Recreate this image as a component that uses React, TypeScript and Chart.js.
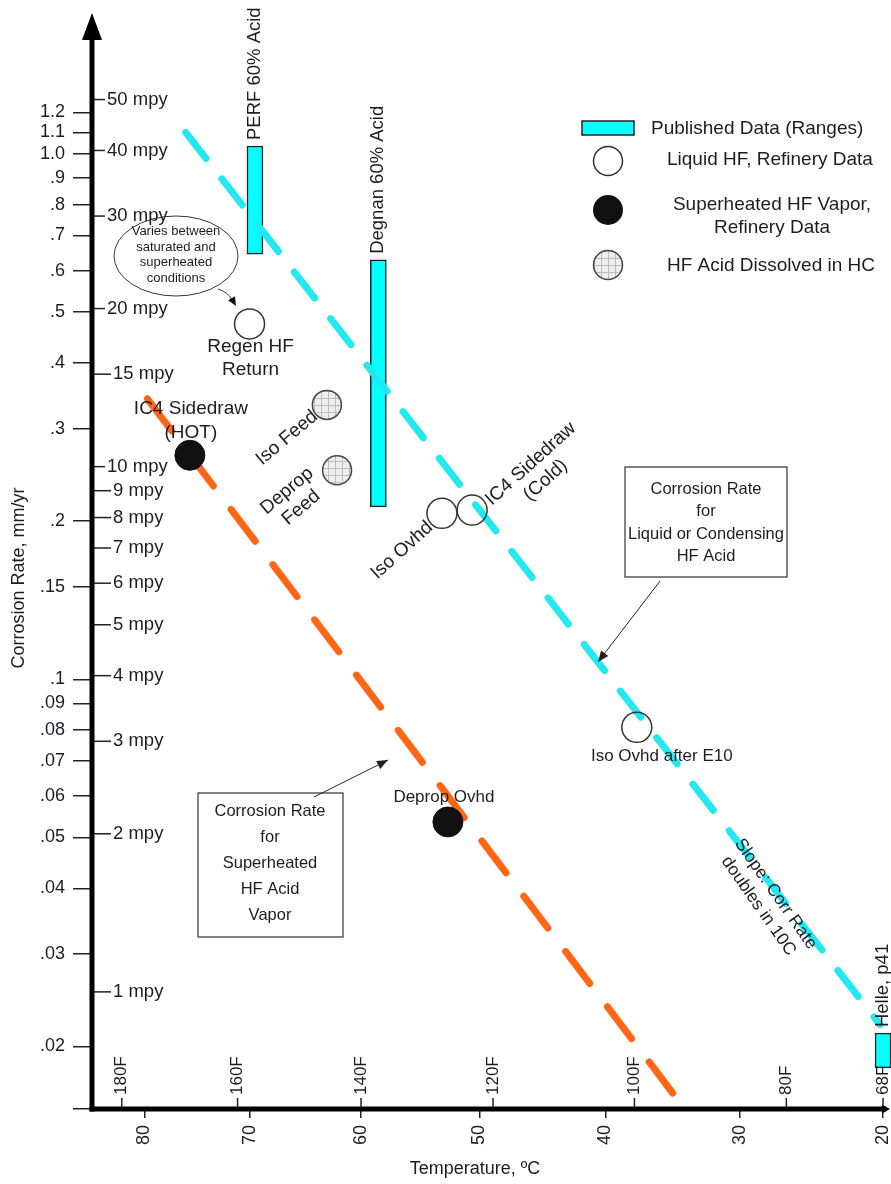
import React, { useEffect, useRef } from 'react';
import { Chart, registerables } from 'chart.js';

Chart.register(...registerables);

// ---------- conversions (x axis is an Arrhenius 1000/T(K) scale) ----------
const K0 = 273.15;
const inv = (c: number) => 1000 / (c + K0);
const invBack = (x: number) => 1000 / x - K0;
const fToC = (f: number) => ((f - 32) * 5) / 9;
const MPY_TO_MMYR = 0.0254;

// ---------- axes ----------
const X_MIN_C = 85.2;
const X_MAX_C = 19.8;
const Y_MIN = 0.0152;
const Y_MAX = 1.8;
const C_TICKS = [80, 70, 60, 50, 40, 30, 20];
const F_TICKS = [180, 160, 140, 120, 100, 80, 68];
const MMYR_TICKS = [0.02, 0.03, 0.04, 0.05, 0.06, 0.07, 0.08, 0.09, 0.1, 0.15, 0.2, 0.3, 0.4, 0.5, 0.6, 0.7, 0.8, 0.9, 1.0, 1.1, 1.2];
const MMYR_LABELS = ['.02', '.03', '.04', '.05', '.06', '.07', '.08', '.09', '.1', '.15', '.2', '.3', '.4', '.5', '.6', '.7', '.8', '.9', '1.0', '1.1', '1.2'];
const MPY_TICKS = [50, 40, 30, 20, 15, 10, 9, 8, 7, 6, 5, 4, 3, 2, 1];

// ---------- series ----------
const LIQUID_LINE_T = [76.0, 20.2];
const LIQUID_LINE_R = [1.1, 0.022];
const VAPOR_LINE_T = [79.7, 34.9];
const VAPOR_LINE_R = [0.342, 0.0163];

const RANGE_NAMES = ['PERF 60% Acid', 'Degnan 60% Acid', 'Helle, p41'];
const RANGE_T = [69.5, 58.5, 20.0];
const RANGE_LO = [0.645, 0.213, 0.0182];
const RANGE_HI = [1.036, 0.629, 0.0212];

const LIQ_NAMES = ['Regen HF Return', 'Iso Ovhd', 'IC4 Sidedraw (Cold)', 'Iso Ovhd after E10'];
const LIQ_T = [70.0, 53.1, 50.6, 37.6];
const LIQ_R = [0.475, 0.207, 0.21, 0.081];

const VAP_NAMES = ['IC4 Sidedraw (HOT)', 'Deprop Ovhd'];
const VAP_T = [75.6, 52.6];
const VAP_R = [0.267, 0.0535];

const DIS_NAMES = ['Iso Feed', 'Deprop Feed'];
const DIS_T = [63.0, 62.1];
const DIS_R = [0.333, 0.25];

// ---------- styles ----------
const FONT = 'Arial, "Liberation Sans", sans-serif';
const TXT = '#1c1c26';
const CYAN = '#00FFFF';
const CYAN_LINE = '#22E8F0';
const ORANGE = '#FF6616';
const FS = 19;

function makePattern(): CanvasPattern | string {
  const c = document.createElement('canvas');
  c.width = 7;
  c.height = 7;
  const g = c.getContext('2d');
  if (!g) return '#e6e6e6';
  g.fillStyle = '#eeeeee';
  g.fillRect(0, 0, 7, 7);
  g.strokeStyle = '#bdbdbd';
  g.lineWidth = 1;
  g.beginPath();
  g.moveTo(6.5, 0);
  g.lineTo(6.5, 7);
  g.moveTo(0, 6.5);
  g.lineTo(7, 6.5);
  g.stroke();
  const p = g.createPattern(c, 'repeat');
  return p || '#e6e6e6';
}

function text(ctx: CanvasRenderingContext2D, s: string, x: number, y: number, size: number, align: CanvasTextAlign = 'center', angle = 0) {
  ctx.save();
  ctx.translate(x, y);
  if (angle) ctx.rotate((angle * Math.PI) / 180);
  ctx.font = `${size}px ${FONT}`;
  ctx.fillStyle = TXT;
  ctx.textAlign = align;
  ctx.textBaseline = 'middle';
  ctx.fillText(s, 0, 0);
  ctx.restore();
}

function lines(ctx: CanvasRenderingContext2D, arr: string[], cx: number, cy: number, size: number, gap: number, angle = 0) {
  ctx.save();
  ctx.translate(cx, cy);
  ctx.rotate((angle * Math.PI) / 180);
  const start = -((arr.length - 1) * gap) / 2;
  arr.forEach((s, i) => text(ctx, s, 0, start + i * gap, size));
  ctx.restore();
}

function arrowHead(ctx: CanvasRenderingContext2D, x1: number, y1: number, x2: number, y2: number, len = 11, half = 4.5) {
  const a = Math.atan2(y2 - y1, x2 - x1);
  ctx.beginPath();
  ctx.moveTo(x2, y2);
  ctx.lineTo(x2 - len * Math.cos(a) + half * Math.sin(a), y2 - len * Math.sin(a) - half * Math.cos(a));
  ctx.lineTo(x2 - len * Math.cos(a) - half * Math.sin(a), y2 - len * Math.sin(a) + half * Math.cos(a));
  ctx.closePath();
  ctx.fill();
}

export default function App() {
  const ref = useRef<HTMLCanvasElement | null>(null);

  useEffect(() => {
    document.body.style.margin = '0';
    const canvas = ref.current;
    if (!canvas) return;
    const pattern = makePattern();

    const overlay = {
      id: 'overlay',
      afterDraw(chart: any) {
        const ctx: CanvasRenderingContext2D = chart.ctx;
        const xs = chart.scales.x;
        const ys = chart.scales.y;
        const ca = chart.chartArea;
        const px = (c: number) => xs.getPixelForValue(inv(c));
        const py = (r: number) => ys.getPixelForValue(r);
        ctx.save();

        // axes
        ctx.strokeStyle = '#000';
        ctx.fillStyle = '#000';
        ctx.lineWidth = 5;
        ctx.beginPath();
        ctx.moveTo(ca.left, ca.bottom + 2.5);
        ctx.lineTo(ca.left, 38);
        ctx.stroke();
        ctx.beginPath();
        ctx.moveTo(ca.left - 10, 40);
        ctx.lineTo(ca.left, 13);
        ctx.lineTo(ca.left + 10, 40);
        ctx.closePath();
        ctx.fill();
        ctx.beginPath();
        ctx.moveTo(ca.left - 2.5, ca.bottom);
        ctx.lineTo(ca.right, ca.bottom);
        ctx.stroke();
        ctx.beginPath();
        ctx.moveTo(ca.right - 4, ca.bottom - 4.5);
        ctx.lineTo(ca.right + 4, ca.bottom);
        ctx.lineTo(ca.right - 4, ca.bottom + 4.5);
        ctx.closePath();
        ctx.fill();

        // Fahrenheit ticks inside
        ctx.lineWidth = 1.5;
        ctx.strokeStyle = '#222';
        F_TICKS.forEach((f) => {
          const x = px(fToC(f));
          ctx.beginPath();
          ctx.moveTo(x, ca.bottom - 2);
          ctx.lineTo(x, ca.bottom - 11);
          ctx.stroke();
          text(ctx, `${f}F`, x, ca.bottom - 14, 17, 'left', -90);
        });

        // mpy ticks
        MPY_TICKS.forEach((m) => {
          const y = py(m * MPY_TO_MMYR);
          const lx = m >= 20 || m === 10 ? 107 : 113;
          ctx.beginPath();
          ctx.moveTo(ca.left + 2, y);
          ctx.lineTo(lx - 2, y);
          ctx.stroke();
          text(ctx, `${m} mpy`, lx, y, 18.5, 'left');
        });

        // axis titles
        text(ctx, 'Corrosion Rate, mm/yr', 19, 578, 18, 'center', -90);
        text(ctx, 'Temperature, ºC', 475, 1169, 18, 'center');

        // range labels
        RANGE_NAMES.forEach((n, i) => {
          text(ctx, n, px(RANGE_T[i]), py(RANGE_HI[i]) - 6, 18.5, 'left', -90);
        });

        // point labels
        const lp = (i: number) => ({ x: px(LIQ_T[i]), y: py(LIQ_R[i]) });
        const vp = (i: number) => ({ x: px(VAP_T[i]), y: py(VAP_R[i]) });
        const dp = (i: number) => ({ x: px(DIS_T[i]), y: py(DIS_R[i]) });
        let p = lp(0);
        lines(ctx, ['Regen HF', 'Return'], p.x + 1, p.y + 34, FS, 23);
        p = lp(1);
        text(ctx, 'Iso Ovhd', p.x - 40, p.y + 37, FS, 'center', -42);
        p = lp(2);
        lines(ctx, ['IC4 Sidedraw', '(Cold)'], p.x + 66, p.y - 38, FS, 22, -42);
        p = lp(3);
        text(ctx, 'Iso Ovhd after E10', p.x + 25, p.y + 29, 17);
        p = vp(0);
        lines(ctx, ['IC4 Sidedraw', '(HOT)'], p.x + 1, p.y - 35, FS, 24);
        p = vp(1);
        text(ctx, 'Deprop Ovhd', p.x - 4, p.y - 25, 17);
        p = dp(0);
        text(ctx, 'Iso Feed', p.x - 40, p.y + 33, FS, 'center', -40);
        p = dp(1);
        lines(ctx, ['Deprop', 'Feed'], p.x - 43, p.y + 29, FS, 22, -40);

        // slope note
        lines(ctx, ['Slope: Corr Rate', 'doubles in 10C'], 767, 900, 17.5, 21, 55);

        // boxes
        ctx.strokeStyle = '#333';
        ctx.lineWidth = 1.2;
        ctx.fillStyle = '#fff';
        ctx.fillRect(625, 467, 162, 110);
        ctx.strokeRect(625, 467, 162, 110);
        lines(ctx, ['Corrosion Rate', 'for', 'Liquid or Condensing', 'HF Acid'], 706, 523, 16.5, 22.5);
        ctx.fillStyle = '#fff';
        ctx.fillRect(198, 793, 145, 144);
        ctx.strokeRect(198, 793, 145, 144);
        lines(ctx, ['Corrosion Rate', 'for', 'Superheated', 'HF Acid', 'Vapor'], 270, 863, 16.5, 26);

        // arrows
        ctx.strokeStyle = '#222';
        ctx.fillStyle = '#222';
        ctx.lineWidth = 1;
        ctx.beginPath();
        ctx.moveTo(660, 581);
        ctx.lineTo(598, 662);
        ctx.stroke();
        arrowHead(ctx, 660, 581, 598, 662);
        ctx.beginPath();
        ctx.moveTo(314, 797);
        ctx.lineTo(388, 760);
        ctx.stroke();
        arrowHead(ctx, 314, 797, 388, 760);

        // ellipse note
        ctx.strokeStyle = '#333';
        ctx.lineWidth = 1;
        ctx.beginPath();
        ctx.ellipse(176, 256, 62, 40, 0, 0, Math.PI * 2);
        ctx.stroke();
        lines(ctx, ['Varies between', 'saturated and', 'superheated', 'conditions'], 176, 255, 13, 15.5);
        ctx.beginPath();
        ctx.moveTo(218, 289);
        ctx.quadraticCurveTo(228, 292, 232, 300);
        ctx.stroke();
        ctx.fillStyle = '#111';
        arrowHead(ctx, 228, 292, 236, 306, 9, 4);

        // legend
        ctx.fillStyle = CYAN;
        ctx.fillRect(582, 121, 52, 14);
        ctx.strokeStyle = '#222';
        ctx.lineWidth = 1.5;
        ctx.strokeRect(582, 121, 52, 14);
        text(ctx, 'Published Data (Ranges)', 651, 129, FS, 'left');
        ctx.beginPath();
        ctx.arc(608, 161, 14.5, 0, Math.PI * 2);
        ctx.fillStyle = '#fff';
        ctx.fill();
        ctx.strokeStyle = '#333';
        ctx.stroke();
        text(ctx, 'Liquid HF, Refinery Data', 667, 160, FS, 'left');
        ctx.beginPath();
        ctx.arc(608, 210, 15, 0, Math.PI * 2);
        ctx.fillStyle = '#111';
        ctx.fill();
        text(ctx, 'Superheated HF Vapor,', 772, 205, FS);
        text(ctx, 'Refinery Data', 772, 228, FS);
        ctx.beginPath();
        ctx.arc(608, 265, 14.5, 0, Math.PI * 2);
        ctx.fillStyle = pattern as any;
        ctx.fill();
        ctx.strokeStyle = '#444';
        ctx.stroke();
        text(ctx, 'HF Acid Dissolved in HC', 667, 266, FS, 'left');

        ctx.restore();
      },
    };

    const chart = new Chart(canvas, {
      type: 'line',
      data: {
        datasets: [
          {
            type: 'scatter',
            label: 'Liquid HF, Refinery Data',
            data: LIQ_T.map((t, i) => ({ x: inv(t), y: LIQ_R[i] })),
            pointRadius: 15,
            pointBackgroundColor: 'rgba(255,255,255,0)',
            pointBorderColor: '#333',
            pointBorderWidth: 1.5,
            showLine: false,
            order: 0,
          } as any,
          {
            type: 'scatter',
            label: 'Superheated HF Vapor, Refinery Data',
            data: VAP_T.map((t, i) => ({ x: inv(t), y: VAP_R[i] })),
            pointRadius: 15,
            pointBackgroundColor: '#111',
            pointBorderColor: '#111',
            pointBorderWidth: 1,
            showLine: false,
            order: 0,
          },
          {
            type: 'scatter',
            label: 'HF Acid Dissolved in HC',
            data: DIS_T.map((t, i) => ({ x: inv(t), y: DIS_R[i] })),
            pointRadius: 14.5,
            pointBackgroundColor: pattern as any,
            pointBorderColor: '#444',
            pointBorderWidth: 1.5,
            showLine: false,
            order: 0,
          },
          {
            type: 'line',
            label: 'Liquid or Condensing HF Acid',
            data: LIQUID_LINE_T.map((t, i) => ({ x: inv(t), y: LIQUID_LINE_R[i] })),
            borderColor: CYAN_LINE,
            borderWidth: 7,
            borderDash: [33, 26],
            borderCapStyle: 'round',
            pointRadius: 0,
            fill: false,
            order: 1,
          },
          {
            type: 'line',
            label: 'Superheated HF Acid Vapor',
            data: VAPOR_LINE_T.map((t, i) => ({ x: inv(t), y: VAPOR_LINE_R[i] })),
            borderColor: ORANGE,
            borderWidth: 7,
            borderDash: [40, 29.3],
            borderCapStyle: 'round',
            pointRadius: 0,
            fill: false,
            order: 1,
          },
          {
            type: 'bar',
            label: 'Published Data (Ranges)',
            data: RANGE_T.map((t, i) => ({ x: inv(t), y: [RANGE_LO[i], RANGE_HI[i]] })) as any,
            backgroundColor: CYAN,
            borderColor: '#222',
            borderWidth: 1.5,
            borderSkipped: false,
            barThickness: 16,
            grouped: false,
            clip: false,
            order: 2,
          } as any,
        ],
      },
      options: {
        responsive: false,
        animation: false,
        devicePixelRatio: 1,
        layout: { autoPadding: false, padding: { top: 20, right: 5, left: 0, bottom: 0 } },
        plugins: {
          legend: { display: false },
          tooltip: { enabled: false },
          title: { display: false },
        },
        scales: {
          x: {
            type: 'linear',
            min: inv(X_MIN_C),
            max: inv(X_MAX_C),
            offset: false,
            grid: { drawOnChartArea: false, drawTicks: true, tickLength: 9, color: '#222', lineWidth: 1.5, offset: false },
            border: { display: false },
            ticks: {
              autoSkip: false,
              minRotation: 90,
              maxRotation: 90,
              padding: 7,
              color: TXT,
              font: { family: FONT, size: 18 },
              callback: (v: any) => String(Math.round(invBack(Number(v)))),
            },
            afterBuildTicks: (s: any) => {
              s.ticks = C_TICKS.map((c) => ({ value: inv(c) }));
            },
            afterFit: (s: any) => {
              s.height = 75;
              s.paddingLeft = 0;
              s.paddingRight = 0;
            },
          },
          y: {
            type: 'logarithmic',
            min: Y_MIN,
            max: Y_MAX,
            grid: { drawOnChartArea: false, drawTicks: true, tickLength: 19, color: '#222', lineWidth: 1.5 },
            border: { display: false },
            ticks: {
              autoSkip: false,
              padding: 8,
              color: TXT,
              font: { family: FONT, size: 18 },
              callback: (v: any) => {
                const i = MMYR_TICKS.findIndex((t) => Math.abs(t - Number(v)) < 1e-9);
                return i >= 0 ? MMYR_LABELS[i] : '';
              },
            },
            afterBuildTicks: (s: any) => {
              s.ticks = [Y_MIN, ...MMYR_TICKS].map((v) => ({ value: v }));
            },
            afterFit: (s: any) => {
              s.width = 92;
              s.paddingTop = 0;
              s.paddingBottom = 0;
            },
          },
        },
      } as any,
      plugins: [overlay],
    });

    return () => chart.destroy();
  }, []);

  return <canvas ref={ref} width={891} height={1184} style={{ display: 'block', width: 891, height: 1184 }} />;
}
